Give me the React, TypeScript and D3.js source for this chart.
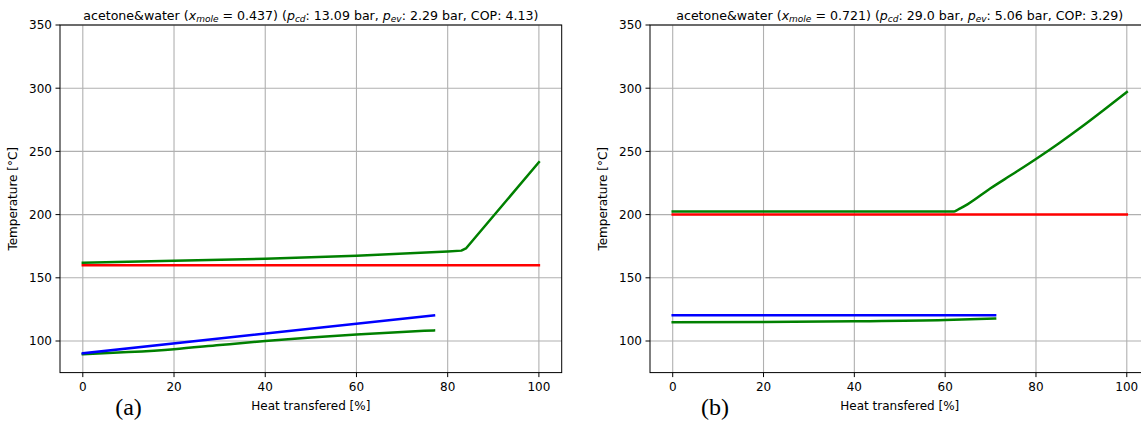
import React from "react";
import * as d3 from "d3";

const xTicks = [0, 20, 40, 60, 80, 100];
const yTicks = [100, 150, 200, 250, 300, 350];

// Panel (a)
const aHotX = [0, 20, 40, 60, 80, 83, 84, 100];
const aHotT = [162, 163.5, 165.1, 167.5, 170.8, 171.5, 173.2, 241.4];
const aCondX = [0, 100];
const aCondT = [160, 160];
const aColdX = [0, 10, 20, 30, 40, 50, 60, 70, 77];
const aColdT = [89.5, 91.2, 93.5, 96.8, 100, 102.8, 105.2, 107.2, 108.4];
const aEvapX = [0, 77];
const aEvapT = [90.3, 120.3];

// Panel (b)
const bHotX = [0, 62, 63, 65, 70, 75, 80, 85, 90, 95, 100];
const bHotT = [202.5, 202.5, 204.3, 208.3, 220.8, 232.3, 244, 256.3, 269.3, 283, 297];
const bCondX = [0, 100];
const bCondT = [200, 200];
const bColdX = [0, 20, 40, 60, 71];
const bColdT = [114.8, 115.1, 115.6, 116.6, 117.8];
const bEvapX = [0, 71];
const bEvapT = [120.3, 120.3];

const FONT = "DejaVu Sans, sans-serif";

type Series = { x: number[]; t: number[]; color: string; smooth?: boolean };

type PanelProps = {
  left: number;
  right: number;
  xMole: string;
  pcd: string;
  pev: string;
  cop: string;
  letter: string;
  letterX: number;
  series: Series[];
  id: string;
};

const TOP = 25;
const BOTTOM = 372.6;

function Panel(p: PanelProps) {
  const x = d3.scaleLinear().domain([-5, 105]).range([p.left, p.right]);
  const y = d3.scaleLinear().domain([75, 350]).range([BOTTOM, TOP]);
  const mkLine = (smooth?: boolean) =>
    d3
      .line<[number, number]>()
      .x((d) => x(d[0]))
      .y((d) => y(d[1]))
      .curve(smooth ? d3.curveMonotoneX : d3.curveLinear);
  const cx = (p.left + p.right) / 2;
  return (
    <g>
      <defs>
        <clipPath id={p.id}>
          <rect x={p.left} y={TOP} width={p.right - p.left} height={BOTTOM - TOP} />
        </clipPath>
      </defs>
      {xTicks.map((v) => (
        <line key={"gx" + v} x1={x(v)} x2={x(v)} y1={TOP} y2={BOTTOM} stroke="#b0b0b0" strokeWidth={1.1} />
      ))}
      {yTicks.map((v) => (
        <line key={"gy" + v} x1={p.left} x2={p.right} y1={y(v)} y2={y(v)} stroke="#b0b0b0" strokeWidth={1.1} />
      ))}
      <g clipPath={`url(#${p.id})`}>
        {p.series.map((s, i) => (
          <path
            key={i}
            d={mkLine(s.smooth)(s.x.map((v, j) => [v, s.t[j]] as [number, number])) || ""}
            fill="none"
            stroke={s.color}
            strokeWidth={2.5}
            strokeLinejoin="round"
            strokeLinecap="square"
          />
        ))}
      </g>
      <rect x={p.left} y={TOP} width={p.right - p.left} height={BOTTOM - TOP} fill="none" stroke="#000" strokeWidth={1} />
      {xTicks.map((v) => (
        <g key={"tx" + v}>
          <line x1={x(v)} x2={x(v)} y1={BOTTOM} y2={BOTTOM + 4.5} stroke="#000" strokeWidth={1} />
          <text x={x(v)} y={391} textAnchor="middle" fontFamily={FONT} fontSize={12} fill="#000">
            {v}
          </text>
        </g>
      ))}
      {yTicks.map((v) => (
        <g key={"ty" + v}>
          <line x1={p.left - 4.5} x2={p.left} y1={y(v)} y2={y(v)} stroke="#000" strokeWidth={1} />
          <text x={p.left - 8} y={y(v) + 4.3} textAnchor="end" fontFamily={FONT} fontSize={12} fill="#000">
            {v}
          </text>
        </g>
      ))}
      <text x={cx} y={410} textAnchor="middle" fontFamily={FONT} fontSize={12} fill="#000">
        Heat transfered [%]
      </text>
      <text
        transform={`translate(${p.left - 43},${(TOP + BOTTOM) / 2}) rotate(-90)`}
        textAnchor="middle"
        fontFamily={FONT}
        fontSize={12}
        fill="#000"
      >
        Temperature [°C]
      </text>
      <text x={cx} y={19.5} textAnchor="middle" fontFamily={FONT} fontSize={12.6} fill="#000">
        acetone&amp;water (
        <tspan fontStyle="italic">x</tspan>
        <tspan fontStyle="italic" fontSize={9} dy={2.5}>mole</tspan>
        <tspan dy={-2.5}>{` = ${p.xMole}) (`}</tspan>
        <tspan fontStyle="italic">p</tspan>
        <tspan fontStyle="italic" fontSize={9} dy={2.5}>cd</tspan>
        <tspan dy={-2.5}>{`: ${p.pcd} bar, `}</tspan>
        <tspan fontStyle="italic">p</tspan>
        <tspan fontStyle="italic" fontSize={9} dy={2.5}>ev</tspan>
        <tspan dy={-2.5}>{`: ${p.pev} bar, COP: ${p.cop})`}</tspan>
      </text>
      <text x={p.letterX} y={415} textAnchor="middle" fontFamily="Liberation Serif, serif" fontSize={24} fill="#000">
        {p.letter}
      </text>
    </g>
  );
}

export default function App() {
  return (
    <svg
      width={1141}
      height={421}
      style={{ position: "absolute", left: 0, top: 0, background: "#fff" }}
    >
      <rect x={0} y={0} width={1141} height={421} fill="#fff" />
      <Panel
        id="clipA"
        left={60}
        right={561.7}
        xMole="0.437"
        pcd="13.09"
        pev="2.29"
        cop="4.13"
        letter="(a)"
        letterX={128.5}
        series={[
          { x: aHotX, t: aHotT, color: "#008000" },
          { x: aCondX, t: aCondT, color: "#ff0000" },
          { x: aColdX, t: aColdT, color: "#008000", smooth: true },
          { x: aEvapX, t: aEvapT, color: "#0000ff" },
        ]}
      />
      <Panel
        id="clipB"
        left={650}
        right={1149.5}
        xMole="0.721"
        pcd="29.0"
        pev="5.06"
        cop="3.29"
        letter="(b)"
        letterX={715}
        series={[
          { x: bHotX, t: bHotT, color: "#008000", smooth: true },
          { x: bCondX, t: bCondT, color: "#ff0000" },
          { x: bColdX, t: bColdT, color: "#008000", smooth: true },
          { x: bEvapX, t: bEvapT, color: "#0000ff" },
        ]}
      />
    </svg>
  );
}
